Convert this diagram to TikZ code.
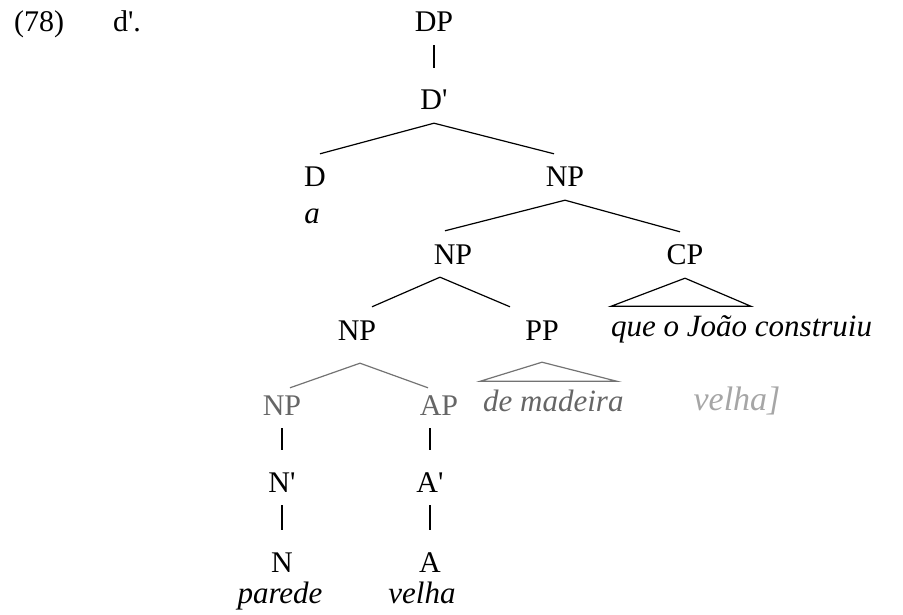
\documentclass[tikz,border=0pt]{standalone}
\usepackage{fontspec}
\setmainfont{Liberation Serif}[Ligatures=TeXOff]
\usepackage{tikz}
\usetikzlibrary{calc}
\tikzset{
stcat/.style={inner sep=0pt,minimum height=46pt,text height=20pt,text depth=0pt,font=\fontsize{30}{34}\selectfont},
stword/.style={inner sep=0pt,text height=20pt,text depth=7pt,font=\fontsize{31}{35}\selectfont\itshape},
stfaded/.style={text=black!60},
stedge/.style={line width=1.2pt},
stfadededge/.style={stedge,draw=black!55},
stunary/.style={stedge,shorten >=8.5pt},
stnote/.style={inner sep=0pt,font=\fontsize{34}{38}\selectfont\itshape,text=black!35}
}
\begin{document}
\begin{tikzpicture}[x=1pt,y=-1pt]
\useasboundingbox (0,0) rectangle (903,615);
% example number
\node[stcat] (exnum) at (39,22) {(78)};
\node[stcat] (exlab) at (127,22) {d'.};
% upper part of the tree
\node[stcat] (dp) at (434,22) {DP};
\node[stcat] (dbar) at (434,100) {D'};
\node[stcat] (d) at (315,177) {D};
\node[stword] (art) at (312,217) {a};
\node[stcat] (np1) at (565,177) {NP};
\node[stcat] (np2) at (453,254) {NP};
\node[stcat] (cp) at (685,255) {CP};
\node[stword,anchor=west] (que) at (611,330) {que o João construiu};
\node[stcat] (np3) at (357,330) {NP};
\node[stcat] (pp) at (542,330) {PP};
% lower (faded) part
\node[stcat,stfaded] (np4) at (282,405) {NP};
\node[stcat,stfaded] (ap) at (439,405) {AP};
\node[stword,stfaded,anchor=west] (mad) at (483,405) {de madeira};
\node[stnote] (note) at (737,401) {velha]};
\node[stcat] (nbar) at (282,482) {N'};
\node[stcat] (n) at (282,562) {N};
\node[stword] (parede) at (280,597) {parede};
\node[stcat] (abar) at (430,482) {A'};
\node[stcat] (aa) at (430,562) {A};
\node[stword] (velha) at (422,597) {velha};
% connectors
\draw[stunary] (dp.south) -- (dbar.north);
\draw[stedge] (dbar.south) -- ($(d.north)+(5,0)$);
\draw[stedge] (dbar.south) -- ($(np1.north)+(-11,0)$);
\draw[stedge] (np1.south) -- ($(np2.north)+(-8,0)$);
\draw[stedge] (np1.south) -- ($(cp.north)+(-5,0)$);
\draw[stedge] (cp.south) -- ($(que.north west)+(0,-10)$) -- ++(140,0) -- cycle;
\draw[stedge] ($(np2.south)+(-13,0)$) -- ($(np3.north)+(15,0)$);
\draw[stedge] ($(np2.south)+(-13,0)$) -- ($(pp.north)+(-32,0)$);
\draw[stfadededge] ($(np3.south)+(3,10)$) -- ($(np4.north)+(8,6)$);
\draw[stfadededge] ($(np3.south)+(3,10)$) -- ($(ap.north)+(-11,6)$);
\draw[stfadededge] ($(pp.south)+(0,9)$) -- ($(mad.north west)+(-3,-10)$) -- ++(137,0) -- cycle;
\draw[stunary] (np4.south) -- (nbar.north);
\draw[stunary] (nbar.south) -- (n.north);
\draw[stunary] (abar.north |- ap.south) -- (abar.north);
\draw[stunary] (abar.south) -- (aa.north);
\end{tikzpicture}
\end{document}
